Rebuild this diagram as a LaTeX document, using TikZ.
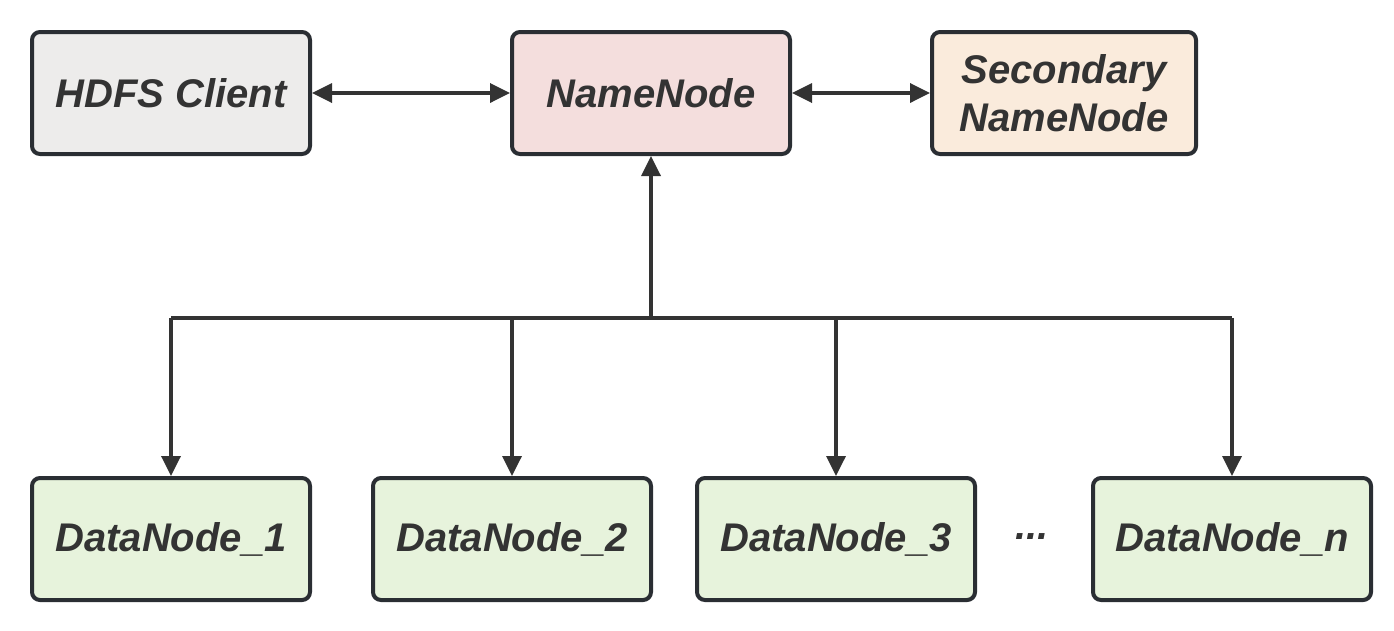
\documentclass[tikz,border=0pt]{standalone}
\usepackage{fontspec}
\setmainfont{Liberation Sans}
\usetikzlibrary{arrows.meta}
\definecolor{edgegray}{HTML}{2A2E33}
\definecolor{linegray}{HTML}{333333}
\definecolor{clientfill}{HTML}{EDECEB}
\definecolor{namefill}{HTML}{F4DEDD}
\definecolor{secfill}{HTML}{FAEBDC}
\definecolor{datafill}{HTML}{E7F3DC}
\tikzset{
  box/.style={draw=edgegray, line width=4pt, rounded corners=8pt,
    minimum width=278pt, minimum height=122pt, inner sep=0pt, align=center,
    text=linegray, font=\fontsize{40}{48}\selectfont\bfseries\itshape},
  link/.style={draw=linegray, line width=3.5pt},
  tip/.style={-{Triangle[length=20pt,width=19pt]}}
}
\begin{document}
\begin{tikzpicture}[x=1pt,y=-1pt]
\useasboundingbox (0,0) rectangle (1394,630);

\node[box, fill=clientfill] (client) at (171,93) {HDFS Client};
\node[box, fill=namefill] (namenode) at (651,93) {NameNode};
\node[box, fill=secfill, minimum width=264pt] (secondary) at (1064,93) {Secondary\\NameNode};

\node[box, fill=datafill] (dn1) at (171,539) {DataNode\_1};
\node[box, fill=datafill] (dn2) at (512,539) {DataNode\_2};
\node[box, fill=datafill] (dn3) at (836,539) {DataNode\_3};
\node[text=linegray, font=\fontsize{40}{46}\selectfont\bfseries\itshape] (dots) at (1032,537) {...};
\node[box, fill=datafill] (dnn) at (1232,539) {DataNode\_n};

\coordinate (bus) at (651,318);

\draw[link, {Triangle[length=20pt,width=19pt]}-{Triangle[length=20pt,width=19pt]}] (client) -- (namenode);
\draw[link, {Triangle[length=20pt,width=19pt]}-{Triangle[length=20pt,width=19pt]}] (namenode) -- (secondary);
\draw[link, tip] (bus) -- (namenode);
\draw[link] (dn1 |- bus) -- (dnn |- bus);
\foreach \dn in {dn1,dn2,dn3,dnn}
  \draw[link, tip] (\dn |- bus) -- (\dn);
\end{tikzpicture}
\end{document}
